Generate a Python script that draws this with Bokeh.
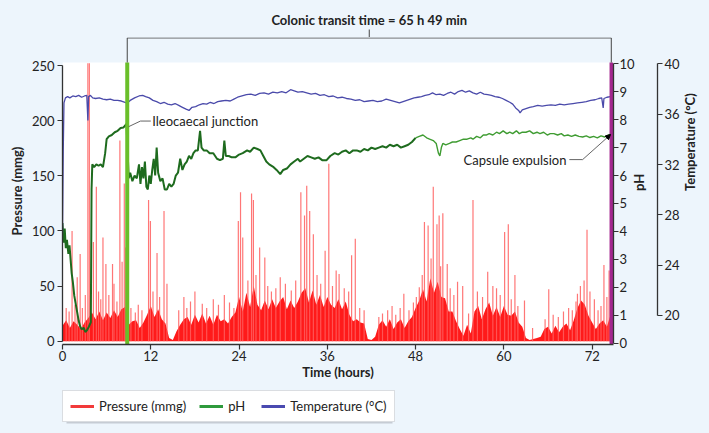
import math
from bokeh.plotting import figure
from bokeh.layouts import column
from bokeh.models import (Range1d, LinearAxis, Label, Arrow, NormalHead,
                          Legend, LegendItem, BoxAnnotation, FixedTicker)
from bokeh.core.properties import value
from bokeh.embed import file_html
from bokeh.resources import INLINE

BG = "#edf5fc"
FONT = "Lato"

# ---------------- data ----------------
# dense pressure envelope, sampled every 0.5 h from 0 h
pressure_step = 0.5
pressure_base = [
    14, 19, 12, 18, 15, 11, 17, 21, 26, 20,
    27, 19, 26, 21, 28, 22, 29, 31, 15, 18,
    19, 12, 17, 24, 32, 22, 29, 20, 16, 3,
    1, 9, 15, 20, 22, 15, 24, 17, 25, 16,
    23, 15, 24, 18, 20, 16, 22, 26, 40, 27,
    44, 31, 50, 33, 28, 37, 29, 38, 30, 36,
    40, 29, 37, 30, 36, 44, 48, 35, 46, 33,
    42, 31, 40, 33, 30, 38, 29, 36, 24, 18,
    20, 17, 16, 2, 1, 4, 15, 19, 13, 20,
    11, 17, 20, 12, 18, 22, 30, 37, 47, 36,
    57, 44, 54, 40, 39, 27, 27, 18, 11, 5,
    15, 7, 27, 32, 20, 29, 35, 23, 31, 22,
    32, 24, 23, 27, 17, 13, 3, 1, 2, 3,
    4, 11, 13, 7, 14, 8, 13, 16, 10, 19,
    30, 37, 33, 23, 17, 11, 16, 19, 13, 24,
]
pressure_t = [i * pressure_step for i in range(len(pressure_base))]

# individual pressure spikes (time h, mmHg)
spike_t = [1.3, 2.0, 2.4, 3.45, 3.65, 4.2, 4.6, 5.5, 5.9, 6.8, 7.8, 8.1, 8.4, 8.6,
           11.7, 11.95, 12.85, 13.8, 14.2, 16.5, 18.0, 20.5, 22.0, 23.9, 24.2, 24.5,
           25.7, 25.95, 26.8, 27.5, 29.6, 32.4, 32.9, 33.2, 33.6, 34.1, 35.7, 36.2,
           37.2, 37.6, 39.3, 39.8, 43.5, 44.8, 46.4, 48.5, 49.2, 49.7, 50.4, 50.9,
           51.2, 51.7, 52.3, 53.7, 54.4, 55.8, 57.8, 58.5, 60.1, 60.6, 61.5, 62.8,
           66.1, 70.0, 70.9, 71.3, 72.3, 73.6, 74.3,
           0.5, 0.9, 1.7, 2.7, 3.1, 4.9, 5.2, 6.3, 7.0, 7.4, 9.3, 9.9, 10.3, 10.8,
           12.3, 13.2, 15.8, 16.9, 17.4, 19.0, 19.6, 21.2, 22.7, 23.3, 25.2, 26.3,
           27.9, 28.4, 29.0, 30.3, 31.1, 31.7, 34.6, 35.1, 36.7, 38.3, 38.9, 40.4,
           41.0, 43.0, 44.2, 45.3, 45.9, 47.1, 47.7, 48.1, 48.9, 50.1, 51.4, 52.7,
           53.2, 55.2, 56.4, 57.1, 59.0, 59.5, 61.0, 61.9, 63.9, 65.6, 66.7, 67.4,
           68.1, 68.8, 69.3, 69.8, 70.4, 71.7, 72.8, 73.2, 74.0]
spike_p = [100, 58, 79, 252, 252, 90, 140, 94, 70, 70, 182, 72, 143, 85,
           128, 109, 80, 118, 52, 40, 45, 38, 42, 109, 135, 94,
           134, 128, 85, 76, 58, 135, 114, 141, 118, 97, 82, 161,
           64, 61, 78, 93, 25, 32, 43, 49, 108, 105, 140, 106,
           114, 116, 70, 54, 50, 128, 63, 50, 99, 106, 60, 37,
           47, 43, 55, 101, 38, 69, 64,
           30, 27, 33, 30, 42, 45, 38, 42, 52, 36, 30, 26, 33, 28,
           45, 40, 28, 30, 36, 34, 30, 33, 35, 30, 55, 60,
           50, 45, 48, 52, 46, 55, 60, 52, 50, 48, 45, 30,
           28, 22, 28, 24, 30, 28, 35, 40, 60, 75, 68, 48,
           42, 25, 45, 40, 48, 42, 38, 32, 12, 20, 24, 22,
           27, 30, 28, 36, 50, 45, 28, 32, 40]

ph_t = [0.0, 0.15, 0.3, 0.45, 0.6, 0.8, 0.95, 1.1, 1.25, 1.4, 1.6, 1.8, 2.0, 2.2, 2.4,
        2.6, 2.9, 3.1, 3.3, 3.6, 3.85, 3.95, 4.05, 4.3, 4.6, 4.9, 5.2, 5.5, 5.8, 6.0,
        6.3, 6.7, 7.1, 7.5, 7.9, 8.3, 8.7, 9.0, 9.2, 9.5, 9.8, 10.1, 10.4, 10.6, 10.8,
        11.0, 11.2, 11.4, 11.6, 11.8, 12.0, 12.2, 12.4, 12.6, 12.8, 13.0, 13.3, 13.6,
        13.9, 14.2, 14.5, 14.8, 15.1, 15.4, 15.7, 16.0, 16.3, 16.6, 16.9, 17.2, 17.5,
        17.8, 18.1, 18.4, 18.7, 18.9, 19.2, 19.6, 20.0, 20.5, 21.0, 21.4, 21.8, 22.0,
        22.2, 22.6, 23.0, 23.5, 24.0, 24.5, 25.1, 25.5, 26.0, 26.5, 26.9, 27.3, 27.7,
        28.1, 28.7, 29.1, 29.6, 30.0, 30.5, 31.0, 31.5, 32.0, 32.3, 32.8, 33.3, 33.8,
        34.3, 34.8, 35.3, 35.9, 36.4, 37.0, 37.5, 38.0, 38.5, 39.0, 39.5, 40.0, 40.5,
        41.0, 41.5, 42.0, 42.5, 43.0, 43.5, 44.0, 44.5, 45.0, 45.5, 46.0, 46.5, 47.0,
        47.5, 48.0, 48.5, 49.0, 49.5, 49.9, 50.4, 50.8, 51.1, 51.3, 51.5, 51.7, 52.1,
        52.6, 53.0, 53.5, 54.0, 54.5, 55.0, 55.5, 55.8, 56.3, 56.8, 57.2, 57.6, 58.0,
        58.5, 59.0, 59.4, 59.9, 60.4, 60.8, 61.2, 61.7, 62.1, 62.5, 63.0, 63.5, 64.0,
        64.5, 64.9, 65.4, 65.9, 66.3, 66.8, 67.3, 67.8, 68.2, 68.7, 69.2, 69.7, 70.2,
        70.7, 71.2, 71.7, 72.2, 72.7, 73.2, 73.7, 74.2, 74.5]
ph_v = [4.3, 3.6, 4.1, 3.4, 3.7, 3.2, 3.5, 3.0, 2.5, 2.2, 1.7, 1.4, 1.1, 0.8, 0.6,
        0.5, 0.55, 0.4, 0.45, 0.6, 0.75, 5.5, 6.4, 6.3, 6.4, 6.35, 6.4, 6.3, 6.8, 7.3,
        7.4, 7.45, 7.55, 7.6, 7.7, 7.72, 7.85, 5.9, 6.1, 5.8, 6.0, 5.9, 6.4, 5.7, 6.3,
        5.9, 6.5, 5.6, 5.5, 6.0, 5.7, 6.2, 6.6, 6.0, 7.0, 6.1, 5.8, 5.9,
        5.5, 5.5, 5.7, 5.6, 5.7, 6.0, 6.1, 6.6, 6.2, 6.4, 6.5, 6.7, 6.6,
        6.8, 6.9, 6.9, 7.6, 7.0, 6.9, 6.9, 6.8, 6.8, 6.6, 6.55, 6.6, 7.25,
        6.7, 6.7, 6.65, 6.65, 6.75, 6.8, 6.9, 6.85, 7.0, 6.95, 6.9, 6.7, 6.5,
        6.4, 6.3, 6.2, 6.05, 6.2, 6.25, 6.4, 6.5, 6.6, 6.5, 6.6, 6.7, 6.65,
        6.6, 6.65, 6.55, 6.55, 6.7, 6.8, 6.75, 6.85, 6.9, 6.8, 6.9, 6.9, 6.85,
        6.95, 6.9, 7.0, 6.95, 7.0, 7.05, 7.0, 7.1, 7.05, 7.1, 7.0, 7.05, 7.1,
        7.2, 7.35, 7.4, 7.45, 7.35, 7.3, 7.25, 7.15, 6.8, 6.7, 7.0, 7.15, 7.1,
        7.15, 7.2, 7.2, 7.25, 7.3, 7.3, 7.35, 7.3, 7.4, 7.35, 7.45, 7.45, 7.5,
        7.45, 7.55, 7.5, 7.6, 7.5, 7.55, 7.5, 7.6, 7.5, 7.55, 7.55, 7.6, 7.5,
        7.55, 7.5, 7.55, 7.45, 7.5, 7.5, 7.45, 7.5, 7.42, 7.45, 7.4, 7.45, 7.4,
        7.38, 7.42, 7.36, 7.4, 7.35, 7.42, 7.38, 7.45, 7.47]

temp_t = [0.0, 0.1, 0.2, 0.4, 0.7, 1.0, 1.4, 1.8, 2.2, 2.6, 3.0, 3.3, 3.45, 3.55, 3.8,
          4.1, 4.5, 5.0, 5.5, 6.0, 6.5, 7.0, 7.5, 8.0, 8.5, 8.8, 9.2, 9.8, 10.4, 10.9,
          11.3, 11.8, 12.3, 12.8, 13.3, 13.8, 14.3, 14.8, 15.3, 15.8, 16.3, 16.8, 17.2,
          17.6, 18.1, 18.6, 19.1, 19.6, 20.1, 20.6, 21.1, 21.6, 22.2, 22.8, 23.3, 23.8,
          24.4, 25.0, 25.6, 26.2, 26.8, 27.4, 28.0, 28.6, 29.2, 29.8, 30.4, 31.0, 31.5,
          32.0, 32.6, 33.2, 33.8, 34.4, 35.0, 35.6, 36.2, 36.8, 37.4, 38.0, 38.6, 39.2,
          39.8, 40.4, 41.0, 41.6, 42.2, 42.8, 43.4, 44.0, 44.6, 45.2, 45.8, 46.3, 46.8,
          47.3, 47.8, 48.3, 48.8, 49.3, 49.8, 50.3, 50.8, 51.3, 51.8, 52.3, 52.8, 53.3,
          53.8, 54.3, 54.8, 55.3, 55.8, 56.3, 56.8, 57.3, 57.8, 58.3, 58.8, 59.3, 59.8,
          60.3, 60.8, 61.2, 61.6, 62.0, 62.2, 62.5, 63.0, 63.5, 64.0, 64.6, 65.2, 65.8,
          66.4, 67.0, 67.6, 68.2, 68.8, 69.4, 70.0, 70.6, 71.2, 71.8, 72.4, 72.9, 73.3,
          73.5, 73.6, 74.0, 74.5]
temp_v = [26.5, 33.0, 36.9, 37.3, 37.4, 37.3, 37.45, 37.4, 37.5, 37.35, 37.45, 37.5, 35.5, 37.4, 37.5,
          37.3, 37.25, 37.3, 37.2, 37.15, 37.2, 37.1, 37.1, 37.05, 36.95, 36.9, 37.1, 37.3, 37.45, 37.5,
          37.4, 37.3, 37.1, 37.0, 36.85, 36.95, 36.8, 36.75, 36.85, 36.7, 36.55, 36.4, 36.3,
          36.55, 36.6, 36.75, 36.85, 36.8, 36.95, 36.85, 37.0, 37.05, 37.1, 37.05, 37.2, 37.35,
          37.45, 37.55, 37.6, 37.5, 37.65, 37.7, 37.6, 37.75, 37.7, 37.8, 37.7, 37.95, 37.85,
          37.75, 37.8, 37.7, 37.6, 37.65, 37.5, 37.55, 37.4, 37.45, 37.3, 37.35, 37.25, 37.2,
          37.1, 37.15, 37.0, 37.05, 37.1, 37.0, 37.05, 37.2, 37.1, 37.0, 36.9, 37.0, 37.1,
          37.2, 37.3, 37.35, 37.4, 37.5, 37.55, 37.7, 37.55, 37.6, 37.5, 37.65, 37.75, 37.6,
          37.8, 37.9, 37.75, 37.85, 37.7, 37.6, 37.75, 37.6, 37.55, 37.5, 37.4, 37.35, 37.25,
          37.1, 36.95, 36.8, 36.5, 36.3, 36.1, 36.35, 36.45, 36.55, 36.6, 36.7, 36.65, 36.7,
          36.75, 36.7, 36.8, 36.75, 36.8, 36.85, 36.9, 36.95, 37.0, 37.1, 37.15, 37.25, 37.3,
          36.5, 37.25, 37.35, 37.4]

ileocaecal_t = 8.8
expulsion_t = 74.6
title_text = "Colonic transit time = 65 h 49 min"
x_ticks = [0, 12, 24, 36, 48, 60, 72]
p_ticks = [0, 50, 100, 150, 200, 250]
ph_ticks = [0, 1, 2, 3, 4, 5, 6, 7, 8, 9, 10]
t_ticks = [20, 24, 28, 32, 36, 40]

P_TOP = 252.7          # top of the white data area (pressure units)
P_BOT = -3.0
x_range = Range1d(0, 74.9)
mid_t = (ileocaecal_t + expulsion_t) / 2
BL, BR = 62, 96        # left / right borders shared by all three strips

# ---------------- top strip: title + centre tick of the bracket ----------------
top = figure(width=709, height=37, output_backend="svg", toolbar_location=None,
             x_range=x_range, y_range=Range1d(37, 0),
             min_border_left=BL, min_border_right=BR, min_border_top=0,
             min_border_bottom=0, background_fill_color=BG, border_fill_color=BG,
             outline_line_color=None, x_axis_type=None, y_axis_type=None)
top.grid.visible = False
top.text(x=[mid_t], y=[19], text=[title_text], text_align="center",
         text_baseline="middle", text_font=value(FONT), text_font_style="bold",
         text_font_size="13px", text_color="#222222")
top.segment(x0=[mid_t], y0=[29], x1=[mid_t], y1=[37], line_color="#444444", line_width=1)

# ---------------- main figure ----------------
p = figure(width=709, height=353, output_backend="svg", toolbar_location=None,
           x_range=x_range, y_range=Range1d(P_BOT, 275.4),
           min_border_left=BL, min_border_right=BR, min_border_top=0,
           min_border_bottom=46, background_fill_color=BG,
           border_fill_color=BG, outline_line_color=None)
p.extra_y_ranges = {"ph": Range1d(-0.047, 10.94), "temp": Range1d(17.69, 42.10)}
p.grid.visible = False

p.add_layout(BoxAnnotation(left=0, right=74.9, bottom=P_BOT, top=P_TOP,
                           fill_color="white", fill_alpha=1, line_color=None,
                           level="underlay"))

p.xaxis.ticker = FixedTicker(ticks=x_ticks)
p.xaxis.axis_label = "Time (hours)"
p.yaxis.ticker = FixedTicker(ticks=p_ticks)
p.yaxis.bounds = (0, 250)
p.yaxis.axis_label = "Pressure (mmg)"

ph_axis = LinearAxis(y_range_name="ph", ticker=FixedTicker(ticks=ph_ticks),
                     bounds=(0, 10), axis_label="pH")
temp_axis = LinearAxis(y_range_name="temp", ticker=FixedTicker(ticks=t_ticks),
                       bounds=(20, 40), axis_label="Temperature (°C)")
p.add_layout(ph_axis, "right")
p.add_layout(temp_axis, "right")

for ax in [p.xaxis[0], p.yaxis[0], ph_axis, temp_axis]:
    ax.axis_line_color = "#333333"
    ax.axis_line_width = 1.3
    ax.major_tick_line_color = "#333333"
    ax.major_tick_line_width = 1.2
    ax.major_tick_out = 5
    ax.major_tick_in = 0
    ax.minor_tick_line_color = None
    ax.major_label_text_font = FONT
    ax.major_label_text_font_size = "13px"
    ax.major_label_text_color = "#222222"
    ax.major_label_standoff = 3
    ax.axis_label_text_font = FONT
    ax.axis_label_text_font_style = "bold"
    ax.axis_label_text_font_size = "13px"
    ax.axis_label_text_color = "#222222"
    ax.axis_label_standoff = 6
p.yaxis.axis_label_standoff = 4
for ax in [ph_axis, temp_axis]:
    ax.axis_label_orientation = math.pi / 2
ph_axis.major_label_standoff = 1
ph_axis.axis_label_standoff = 1
temp_axis.major_label_standoff = 2
temp_axis.axis_label_standoff = 7
p.xaxis.major_label_standoff = 1
p.xaxis.axis_label_standoff = 0

# pressure
p.varea(x=pressure_t, y1=0, y2=pressure_base, fill_color="#ff1a1a")
p.segment(x0=spike_t, y0=0, x1=spike_t, y1=spike_p, line_color="#ff5e5e",
          line_width=1.2, line_alpha=0.85)

# pH (darker dense part, lighter later part)
k = next(i for i, t in enumerate(ph_t) if t >= 48.0)
p.line(ph_t[:k + 1], ph_v[:k + 1], y_range_name="ph", line_color="#1e6b1e", line_width=2)
p.line(ph_t[k:], ph_v[k:], y_range_name="ph", line_color="#3f9c32", line_width=1.4)

# temperature
p.line(temp_t, temp_v, y_range_name="temp", line_color="#4a4aaa", line_width=1.3)

# event markers (ileocaecal junction, capsule expulsion)
p.segment(x0=[ileocaecal_t], y0=[P_BOT], x1=[ileocaecal_t], y1=[P_TOP],
          line_color="#6abf2a", line_width=4)
p.segment(x0=[expulsion_t], y0=[P_BOT], x1=[expulsion_t], y1=[P_TOP],
          line_color="#a3278f", line_width=3.5)

# bracket legs + horizontal bar
br_y = 275.0
p.segment(x0=[ileocaecal_t, expulsion_t, ileocaecal_t],
          y0=[P_TOP, P_TOP, br_y],
          x1=[ileocaecal_t, expulsion_t, expulsion_t],
          y1=[br_y, br_y, br_y], line_color="#444444", line_width=1)

# annotations
p.line([12.0, 10.6, 9.0], [7.95, 7.95, 7.75], y_range_name="ph",
       line_color="#555555", line_width=0.9)
p.add_layout(Label(x=12.2, y=7.95, y_range_name="ph", text="Ileocaecal junction",
                   text_baseline="middle", text_font=FONT, text_font_size="13px",
                   text_color="#222222"))
p.line([68.9, 70.7, 73.8], [6.57, 6.57, 7.3], y_range_name="ph",
       line_color="#555555", line_width=0.9)
p.add_layout(Arrow(x_start=73.8, y_start=7.3, x_end=74.5, y_end=7.47, y_range_name="ph",
                   line_color="#333333", line_width=0.9,
                   end=NormalHead(size=5, fill_color="black", line_color="black")))
p.add_layout(Label(x=68.5, y=6.57, y_range_name="ph", text="Capsule expulsion",
                   text_align="right", text_baseline="middle", text_font=FONT,
                   text_font_size="13px", text_color="#222222"))

# ---------------- legend strip ----------------
leg = figure(width=709, height=43, output_backend="svg", toolbar_location=None,
             x_range=Range1d(62, 613), y_range=Range1d(43, 0),
             min_border_left=BL, min_border_right=BR, min_border_top=0,
             min_border_bottom=0, background_fill_color=BG, border_fill_color=BG,
             outline_line_color=None, x_axis_type=None, y_axis_type=None)
leg.grid.visible = False
leg.add_layout(BoxAnnotation(left=66, right=392, top=4, bottom=33,
                             fill_color="#c6ccd4", fill_alpha=1, line_color=None))
# legend proxies: single-point lines draw nothing in the strip itself
r_p = leg.line(x=[62], y=[0], line_color="#f23a3a", line_width=3)
r_ph = leg.line(x=[62], y=[0], line_color="#2f9a3c", line_width=3)
r_t = leg.line(x=[62], y=[0], line_color="#4a4ab0", line_width=3)
legend = Legend(items=[LegendItem(label="Pressure (mmg)", renderers=[r_p]),
                       LegendItem(label="pH", renderers=[r_ph]),
                       LegendItem(label="Temperature (°C)", renderers=[r_t])],
                orientation="horizontal", location="top_left", margin=0,
                padding=7, spacing=13, glyph_width=24, glyph_height=14,
                label_standoff=5, label_text_font=FONT, label_text_font_size="13px",
                label_text_color="#222222", border_line_color="#b5bcc4",
                border_line_width=1, background_fill_color="white",
                background_fill_alpha=1)
leg.add_layout(legend)

layout = column(top, p, leg, spacing=0)
html = file_html(layout, INLINE)
html = html.replace("</head>", "<style>body{background:%s;}</style></head>" % BG, 1)
open("out.html", "w").write(html)
